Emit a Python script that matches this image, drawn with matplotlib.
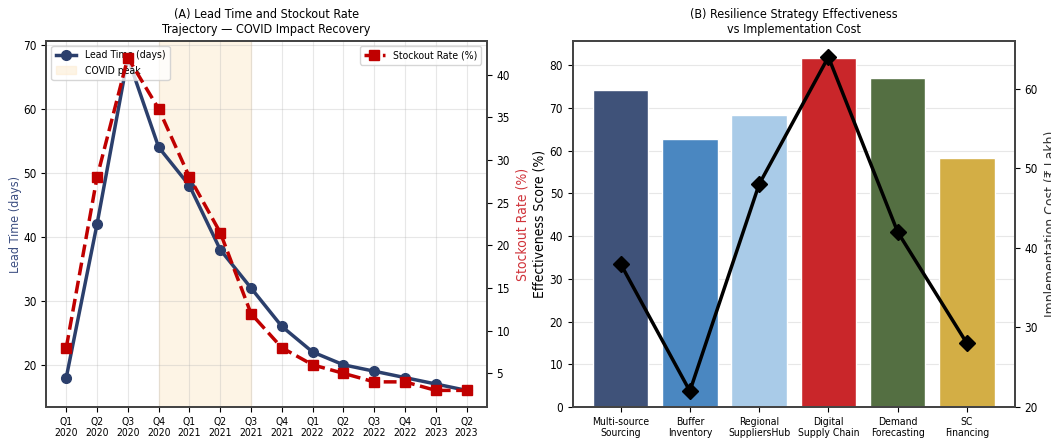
import numpy as np
import matplotlib
matplotlib.use('Agg')
from matplotlib import pyplot as plt
from matplotlib import font_manager

# panel A data
quarters = ['Q1\n2020', 'Q2\n2020', 'Q3\n2020', 'Q4\n2020', 'Q1\n2021', 'Q2\n2021', 'Q3\n2021',
            'Q4\n2021', 'Q1\n2022', 'Q2\n2022', 'Q3\n2022', 'Q4\n2022', 'Q1\n2023', 'Q2\n2023']
lead_time = [18, 42, 68, 54, 48, 38, 32, 26, 22, 20, 19, 18, 17, 16]
stockout = [8, 28, 42, 36, 28, 21.5, 12, 8, 6, 5, 4, 4, 3, 3]
covid_start, covid_end = 3, 6

# panel B data
strategies = ['Multi-source\nSourcing', 'Buffer\nInventory', 'Regional\nSuppliersHub',
              'Digital\nSupply Chain', 'Demand\nForecasting', 'SC\nFinancing']
effectiveness = [74.2, 62.7, 68.3, 81.6, 77.0, 58.4]
cost = [38, 22, 48, 64, 42, 28]

bar_colors = ['#3f5279', '#4a87c1', '#a9cbe8', '#c9262a', '#546f42', '#d3ae45']
navy = '#2b3f6c'
red = '#c00000'

# narrow font if one is installed
names = set(f.name for f in font_manager.fontManager.ttflist)
cond = [f for f in font_manager.fontManager.ttflist
        if f.name == 'DejaVu Sans' and f.stretch == 'condensed']
if cond:
    plt.rcParams['font.family'] = ['DejaVu Sans']
    plt.rcParams['font.stretch'] = 'condensed'
elif 'Liberation Sans Narrow' in names:
    plt.rcParams['font.family'] = ['Liberation Sans Narrow', 'DejaVu Sans']
plt.rcParams['font.size'] = 8

fig = plt.figure(figsize=(10.51, 4.41), dpi=100)

# ---- (A)
ax1 = fig.add_axes([0.044, 0.077, 0.419, 0.830])
x = np.arange(len(quarters))
span = ax1.axvspan(covid_start, covid_end, color='#fdebd0', alpha=0.55, label='COVID peak')
line1, = ax1.plot(x, lead_time, color=navy, marker='o', lw=2.5, ms=7, label='Lead Time (days)')
ax1.set_xticks(x)
ax1.set_xticklabels(quarters, fontsize=7.5)
ax1.tick_params(axis='y', labelsize=8.5)
ax1.set_ylabel('Lead Time (days)', color='#3d4f82', fontsize=9, labelpad=1)
ax1.grid(True, alpha=0.3)
ax1.set_ylim(13.4, 70.6)
ax1.legend(handles=[line1, span], loc='upper left', fontsize=7.5)
ax1.set_title('(A) Lead Time and Stockout Rate\nTrajectory — COVID Impact Recovery', fontsize=9)

ax1b = ax1.twinx()
ax1b.plot(x, stockout, color=red, marker='s', ls='--', lw=2.5, ms=7, label='Stockout Rate (%)')
ax1b.tick_params(axis='y', labelsize=8.5)
ax1b.set_ylabel('Stockout Rate (%)', color='#d0333a', fontsize=10)
ax1b.legend(loc='upper right', fontsize=7.5)

# ---- (B)
ax2 = fig.add_axes([0.545, 0.077, 0.4205, 0.830])
xb = np.arange(len(strategies))
ax2.bar(xb, effectiveness, color=bar_colors, edgecolor='white', width=0.8)
ax2.set_xticks(xb)
ax2.set_xticklabels(strategies, fontsize=7.5)
ax2.tick_params(axis='y', labelsize=8.5)
ax2.set_ylabel('Effectiveness Score (%)', fontsize=10, labelpad=2)
ax2.set_ylim(0, max(effectiveness) * 1.05)
ax2.grid(True, axis='y', alpha=0.3)
ax2.set_axisbelow(True)
ax2.set_title('(B) Resilience Strategy Effectiveness\nvs Implementation Cost', fontsize=9)

ax2b = ax2.twinx()
ax2b.plot(xb, cost, color='black', marker='D', lw=2.5, ms=8)
ax2b.set_ylim(20, 66)
ax2b.tick_params(axis='y', labelsize=8.5)
ax2b.set_ylabel('Implementation Cost (₹ Lakh)', color='#333333', fontsize=10)

for a in [ax1, ax1b, ax2, ax2b]:
    for s in a.spines.values():
        s.set_color('#444444')
        s.set_linewidth(1.3)

fig.savefig('out.png', dpi=100)
